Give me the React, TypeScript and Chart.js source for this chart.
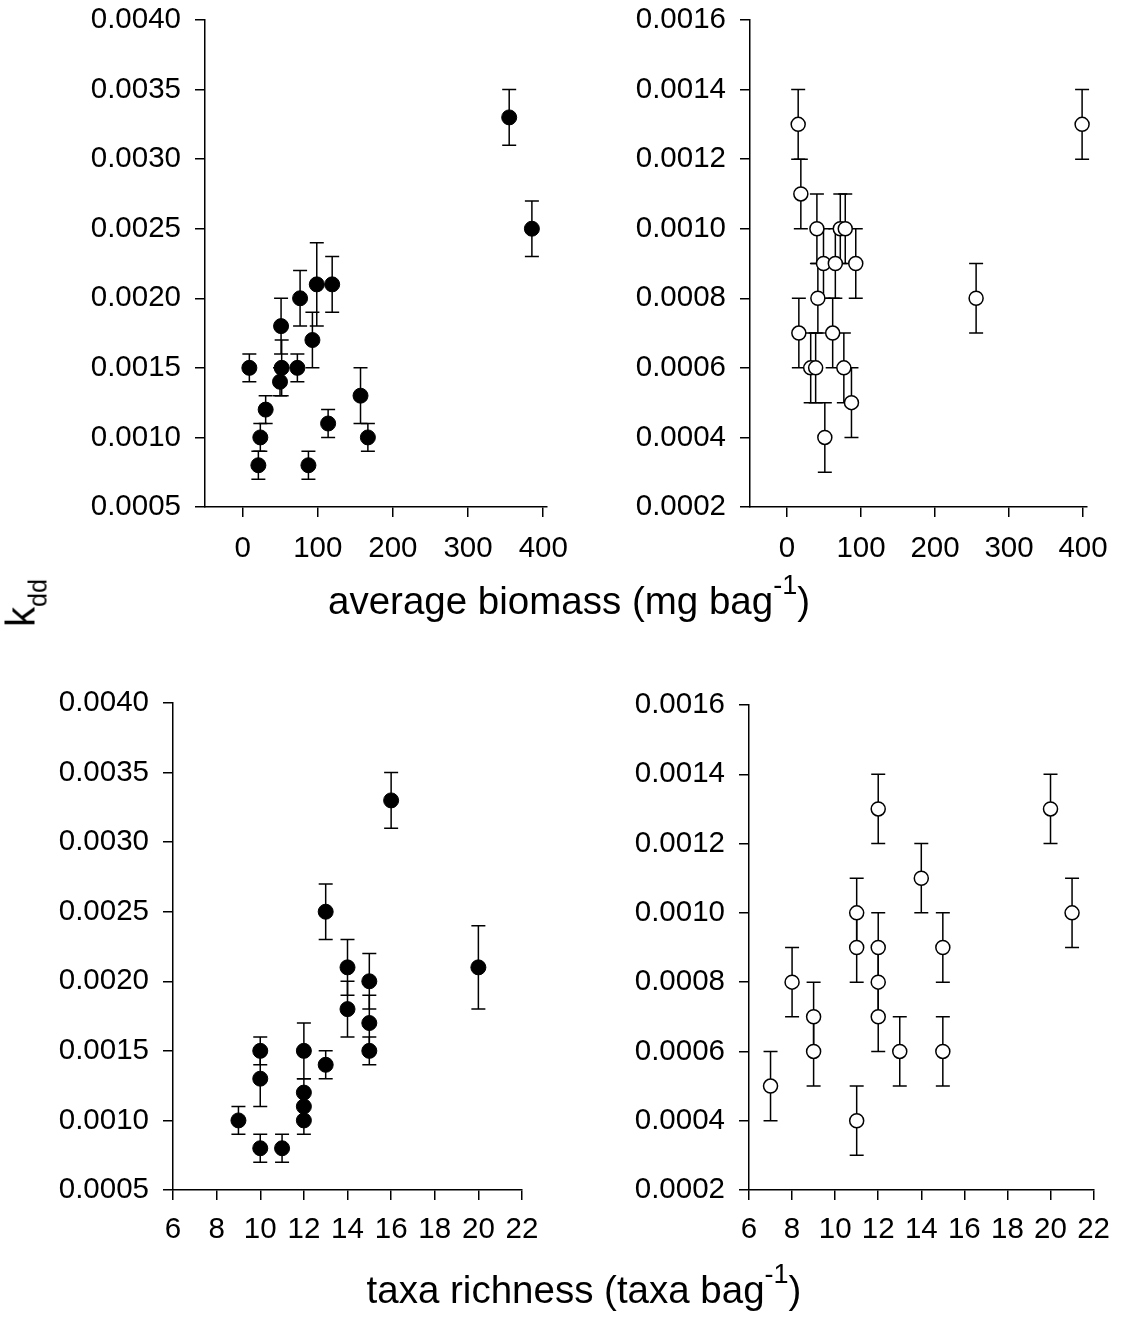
import React, { useEffect, useRef } from 'react';
import { Chart, registerables } from 'chart.js';

Chart.register(...registerables);

const FONT = 'Arial, "Liberation Sans", sans-serif';

// ---- Data: top-left (filled) k_dd vs average biomass
const biomassFilledX = [9, 21, 23.6, 30.7, 49.8, 51.2, 52, 72.9, 76.5, 87.6, 92.9, 98.7, 113.8, 119.2, 156.9, 166.7, 354.7, 384.9];
const biomassFilledK = [0.0015, 0.0008, 0.001, 0.0012, 0.0014, 0.0018, 0.0015, 0.0015, 0.002, 0.0008, 0.0017, 0.0021, 0.0011, 0.0021, 0.0013, 0.001, 0.0033, 0.0025];
const biomassFilledErr = [0.0001, 0.0001, 0.0001, 0.0001, 0.0001, 0.0002, 0.0002, 0.0001, 0.0002, 0.0001, 0.0002, 0.0003, 0.0001, 0.0002, 0.0002, 0.0001, 0.0002, 0.0002];

// ---- Data: top-right (open) k_dd vs average biomass
const biomassOpenX = [15.1, 18.7, 40.4, 49.3, 65.3, 72, 78.7, 92.9, 41.7, 16, 61.7, 32, 38.7, 76.8, 87.1, 51.1, 255.5, 398.7];
const biomassOpenK = [0.0013, 0.0011, 0.001, 0.0009, 0.0009, 0.001, 0.001, 0.0009, 0.0008, 0.0007, 0.0007, 0.0006, 0.0006, 0.0006, 0.0005, 0.0004, 0.0008, 0.0013];
const biomassOpenErr = [0.0001, 0.0001, 0.0001, 0.0001, 0.0001, 0.0001, 0.0001, 0.0001, 0.0001, 0.0001, 0.0001, 0.0001, 0.0001, 0.0001, 0.0001, 0.0001, 0.0001, 0.0001];

// ---- Data: bottom-left (filled) k_dd vs taxa richness
const richFilledX = [9, 10, 10, 10, 11, 12, 12, 12, 12, 13, 13, 14, 14, 15, 15, 15, 16, 20];
const richFilledK = [0.001, 0.0015, 0.0013, 0.0008, 0.0008, 0.0015, 0.0012, 0.0011, 0.001, 0.0014, 0.0025, 0.0021, 0.0018, 0.002, 0.0017, 0.0015, 0.0033, 0.0021];
const richFilledErr = [0.0001, 0.0001, 0.0002, 0.0001, 0.0001, 0.0002, 0.0001, 0.0001, 0.0001, 0.0001, 0.0002, 0.0002, 0.0002, 0.0002, 0.0002, 0.0001, 0.0002, 0.0003];

// ---- Data: bottom-right (open) k_dd vs taxa richness
const richOpenX = [7, 8, 9, 9, 11, 11, 11, 12, 12, 12, 12, 13, 14, 15, 15, 20, 21];
const richOpenK = [0.0005, 0.0008, 0.0007, 0.0006, 0.001, 0.0009, 0.0004, 0.0013, 0.0009, 0.0008, 0.0007, 0.0006, 0.0011, 0.0009, 0.0006, 0.0013, 0.001];
const richOpenErr = [0.0001, 0.0001, 0.0001, 0.0001, 0.0001, 0.0001, 0.0001, 0.0001, 0.0001, 0.0001, 0.0001, 0.0001, 0.0001, 0.0001, 0.0001, 0.0001, 0.0001];

// ---- Tick labels
const biomassTicks = [0, 100, 200, 300, 400];
const richnessTicks = [6, 8, 10, 12, 14, 16, 18, 20, 22];
const kFilledTicks = [0.0005, 0.001, 0.0015, 0.002, 0.0025, 0.003, 0.0035, 0.004];
const kOpenTicks = [0.0002, 0.0004, 0.0006, 0.0008, 0.001, 0.0012, 0.0014, 0.0016];

const errorBarPlugin = {
  id: 'errorBars',
  beforeDatasetsDraw(chart: any) {
    const ctx = chart.ctx;
    const xs = chart.scales.x;
    const ys = chart.scales.y;
    chart.data.datasets.forEach((ds: any) => {
      const errs = ds.errors;
      if (!errs) return;
      ctx.save();
      ctx.strokeStyle = '#000';
      ctx.lineWidth = 1.5;
      const cap = 7;
      ds.data.forEach((p: any, i: number) => {
        const e = errs[i];
        const px = xs.getPixelForValue(p.x);
        const top = ys.getPixelForValue(p.y + e);
        const bot = ys.getPixelForValue(p.y - e);
        ctx.beginPath();
        ctx.moveTo(px, top);
        ctx.lineTo(px, bot);
        ctx.moveTo(px - cap, top);
        ctx.lineTo(px + cap, top);
        ctx.moveTo(px - cap, bot);
        ctx.lineTo(px + cap, bot);
        ctx.stroke();
      });
      ctx.restore();
    });
  },
};

type PanelCfg = {
  left: number;
  top: number;
  width: number;
  height: number;
  areaLeft: number;
  areaTop: number;
  areaRight: number;
  areaBottom: number;
  xMin: number;
  xMax: number;
  yMin: number;
  yMax: number;
  xTicks: number[];
  yTicks: number[];
  xs: number[];
  ys: number[];
  errs: number[];
  filled: boolean;
  xPad: number;
};

const TICK_FONT = { family: FONT, size: 29.5 };

function Panel({ cfg }: { cfg: PanelCfg }) {
  const ref = useRef<HTMLCanvasElement>(null);
  useEffect(() => {
    const yAxisWidth = cfg.areaLeft - cfg.left;
    const padTop = cfg.areaTop - cfg.top;
    const padRight = cfg.left + cfg.width - cfg.areaRight;
    const xAxisHeight = cfg.top + cfg.height - cfg.areaBottom;
    const chart = new Chart(ref.current as HTMLCanvasElement, {
      type: 'scatter',
      data: {
        datasets: [
          {
            data: cfg.xs.map((x, i) => ({ x, y: cfg.ys[i] })),
            errors: cfg.errs,
            pointRadius: cfg.filled ? 7.5 : 7,
            pointHoverRadius: cfg.filled ? 7.5 : 7,
            pointBackgroundColor: cfg.filled ? '#000' : '#fff',
            pointBorderColor: '#000',
            pointBorderWidth: cfg.filled ? 1 : 1.5,
            clip: false,
          } as any,
        ],
      },
      options: {
        responsive: false,
        animation: false,
        events: [],
        layout: { padding: { left: 0, top: padTop, right: padRight, bottom: 0 } },
        plugins: { legend: { display: false }, tooltip: { enabled: false } },
        scales: {
          x: {
            type: 'linear',
            min: cfg.xMin,
            max: cfg.xMax,
            afterBuildTicks: (s: any) => {
              s.ticks = cfg.xTicks.map((v) => ({ value: v }));
            },
            afterFit: (s: any) => {
              s.height = xAxisHeight;
            },
            ticks: {
              autoSkip: false,
              maxRotation: 0,
              minRotation: 0,
              color: '#000',
              font: TICK_FONT,
              padding: cfg.xPad,
              callback: (v: any) => String(v),
            },
            grid: { drawOnChartArea: false, drawTicks: true, tickLength: 10, color: '#000', lineWidth: 1.5 },
            border: { display: true, color: '#000', width: 1.5 },
          },
          y: {
            type: 'linear',
            min: cfg.yMin,
            max: cfg.yMax,
            afterBuildTicks: (s: any) => {
              s.ticks = cfg.yTicks.map((v) => ({ value: v }));
            },
            afterFit: (s: any) => {
              s.width = yAxisWidth;
            },
            ticks: {
              autoSkip: false,
              color: '#000',
              font: TICK_FONT,
              padding: 14,
              callback: (v: any) => Number(v).toFixed(4),
            },
            grid: { drawOnChartArea: false, drawTicks: true, tickLength: 10, color: '#000', lineWidth: 1.5 },
            border: { display: true, color: '#000', width: 1.5 },
          },
        },
      } as any,
      plugins: [errorBarPlugin],
    });
    return () => chart.destroy();
  }, []);
  return (
    <canvas
      ref={ref}
      width={cfg.width}
      height={cfg.height}
      style={{ position: 'absolute', left: cfg.left, top: cfg.top, width: cfg.width, height: cfg.height }}
    />
  );
}

const panels: PanelCfg[] = [
  {
    left: 0, top: -40, width: 600, height: 640,
    areaLeft: 205, areaTop: 20, areaRight: 547, areaBottom: 507,
    xMin: -50, xMax: 405, yMin: 0.0005, yMax: 0.004,
    xTicks: biomassTicks, yTicks: kFilledTicks,
    xs: biomassFilledX, ys: biomassFilledK, errs: biomassFilledErr, filled: true, xPad: 14,
  },
  {
    left: 560, top: -40, width: 562, height: 640,
    areaLeft: 750, areaTop: 20, areaRight: 1092, areaBottom: 507,
    xMin: -50, xMax: 405, yMin: 0.0002, yMax: 0.0016,
    xTicks: biomassTicks, yTicks: kOpenTicks,
    xs: biomassOpenX, ys: biomassOpenK, errs: biomassOpenErr, filled: false, xPad: 14,
  },
  {
    left: 0, top: 640, width: 600, height: 680,
    areaLeft: 173, areaTop: 703, areaRight: 522, areaBottom: 1190,
    xMin: 6, xMax: 22, yMin: 0.0005, yMax: 0.004,
    xTicks: richnessTicks, yTicks: kFilledTicks,
    xs: richFilledX, ys: richFilledK, errs: richFilledErr, filled: true, xPad: 12,
  },
  {
    left: 560, top: 640, width: 562, height: 680,
    areaLeft: 749, areaTop: 705, areaRight: 1100, areaBottom: 1190,
    xMin: 6, xMax: 22, yMin: 0.0002, yMax: 0.0016,
    xTicks: richnessTicks, yTicks: kOpenTicks,
    xs: richOpenX, ys: richOpenK, errs: richOpenErr, filled: false, xPad: 12,
  },
];

const titleStyle: React.CSSProperties = {
  position: 'absolute',
  fontFamily: FONT,
  fontSize: 38.5,
  lineHeight: '38px',
  color: '#000',
  whiteSpace: 'nowrap',
  transform: 'translateX(-50%)',
};

const supStyle: React.CSSProperties = { fontSize: 27, position: 'relative', top: -20 };

export default function App() {
  return (
    <div style={{ position: 'absolute', left: 0, top: 0, width: 1122, height: 1325, background: '#fff', overflow: 'hidden' }}>
      {panels.map((p, i) => (
        <Panel key={i} cfg={p} />
      ))}
      <div style={{ ...titleStyle, left: 569, top: 582 }}>
        average biomass (mg bag<span style={supStyle}>-1</span>)
      </div>
      <div style={{ ...titleStyle, left: 584, top: 1271 }}>
        taxa richness (taxa bag<span style={supStyle}>-1</span>)
      </div>
      <div
        style={{
          position: 'absolute',
          left: 23,
          top: 603,
          fontFamily: FONT,
          fontSize: 40,
          lineHeight: '40px',
          color: '#000',
          whiteSpace: 'nowrap',
          transform: 'translate(-50%, -50%) rotate(-90deg)',
        }}
      >
        k<span style={{ fontSize: 25, position: 'relative', top: 12 }}>dd</span>
      </div>
    </div>
  );
}
